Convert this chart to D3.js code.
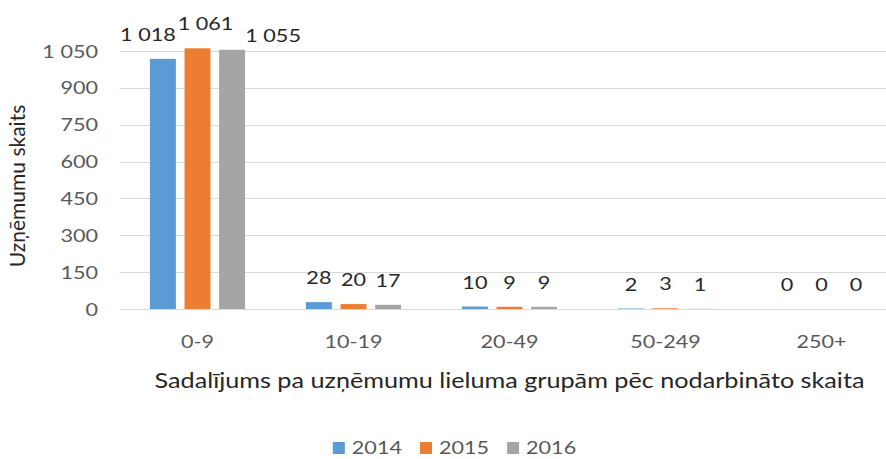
<!DOCTYPE html>
<html>
<head>
<meta charset="utf-8">
<script src="https://cdn.jsdelivr.net/npm/d3@7"></script>
<style>
  body { margin: 0; background: #fff; }
  text { font-family: Lato, "Open Sans", sans-serif; }
</style>
</head>
<body>
<script>
// chart data
var categories = ["0-9", "10-19", "20-49", "50-249", "250+"];
var years = ["2014", "2015", "2016"];
var values2014 = [1018, 28, 10, 2, 0];
var values2015 = [1061, 20, 9, 3, 0];
var values2016 = [1055, 17, 9, 1, 0];
var yTicks = [0, 150, 300, 450, 600, 750, 900, 1050];
var colors = ["#5B9BD5", "#ED7D31", "#A5A5A5"];

var width = 886, height = 459;
var stretch = 1.2; // reference text is a bit wide

var series = [values2014, values2015, values2016];
var fmt = function (v) { return d3.format(",")(v).replace(/,/g, " "); };

var svg = d3.select("body").append("svg")
    .attr("width", width)
    .attr("height", height);

var x0 = d3.scaleBand()
    .domain(categories)
    .range([119.5, 899.5])
    .paddingInner(0.39)
    .paddingOuter(0.195);

var x1 = d3.scaleBand()
    .domain(years)
    .range([0, x0.bandwidth()])
    .paddingInner(0.25);

var y = d3.scaleLinear()
    .domain([0, 1050])
    .range([309, 51]);

// put a stretched text at x,y
function label(g, x, y, str) {
    return g.append("text")
        .attr("transform", "translate(" + x + "," + y + ") scale(" + stretch + ",1)")
        .text(str);
}

// gridlines
svg.append("g").selectAll("line")
    .data(yTicks)
    .enter().append("line")
    .attr("x1", 119.5)
    .attr("x2", 899.5)
    .attr("y1", function (d) { return Math.round(y(d)) + 0.5; })
    .attr("y2", function (d) { return Math.round(y(d)) + 0.5; })
    .attr("stroke", "#D9D9D9")
    .attr("stroke-width", 1);

// y tick labels
var yAxis = svg.append("g");
yTicks.forEach(function (t) {
    label(yAxis, 98, y(t) + 6.5, fmt(t))
        .attr("text-anchor", "end")
        .attr("font-size", 18)
        .attr("fill", "#595959");
});

// category labels
var xAxis = svg.append("g");
categories.forEach(function (c) {
    label(xAxis, x0(c) + x0.bandwidth() / 2, 348, c)
        .attr("text-anchor", "middle")
        .attr("font-size", 18)
        .attr("fill", "#595959");
});

// bars
var groups = svg.append("g").selectAll("g")
    .data(categories)
    .enter().append("g")
    .attr("transform", function (c) { return "translate(" + x0(c) + ",0)"; });

groups.selectAll("rect")
    .data(function (c, i) {
        return years.map(function (yr, k) { return { year: yr, k: k, value: series[k][i], cat: c }; });
    })
    .enter().append("rect")
    .attr("x", function (d) { return x1(d.year); })
    .attr("width", x1.bandwidth())
    .attr("y", function (d) { return y(d.value); })
    .attr("height", function (d) { return y(0) - y(d.value); })
    .attr("fill", function (d) { return colors[d.k]; });

// Excel moved the crowded labels of the first group
var nudge = { "0-9|2014": [-15, 0], "0-9|2015": [8, 0], "0-9|2016": [41, 10] };

var labels = svg.append("g");
categories.forEach(function (c, i) {
    years.forEach(function (yr, k) {
        var v = series[k][i];
        var n = nudge[c + "|" + yr] || [0, 0];
        label(labels, x0(c) + x1(yr) + x1.bandwidth() / 2 + n[0], y(v) - 18 + n[1], fmt(v))
            .attr("text-anchor", "middle")
            .attr("font-size", 18)
            .attr("fill", "#262626");
    });
});

// axis titles
label(svg, (119.5 + 899.5) / 2, 388, "Sadalījums pa uzņēmumu lieluma grupām pēc nodarbināto skaita")
    .attr("text-anchor", "middle")
    .attr("font-size", 21)
    .attr("fill", "#262626");

svg.append("text")
    .attr("transform", "translate(25,186) rotate(-90)")
    .attr("text-anchor", "middle")
    .attr("font-size", 21)
    .attr("fill", "#262626")
    .text("Uzņēmumu skaits");

// legend
var legend = svg.append("g");
var items = [], total = 0;
years.forEach(function (yr, k) {
    var it = legend.append("g");
    it.append("rect").attr("width", 12).attr("height", 12).attr("y", -12).attr("fill", colors[k]);
    var t = label(it, 19, 0, yr).attr("font-size", 18).attr("fill", "#595959");
    var w = 19 + t.node().getComputedTextLength() * stretch;
    items.push({ g: it, w: w });
    total += w;
});
var gap = 18;
total += gap * (items.length - 1);
var lx = 454.5 - total / 2;
items.forEach(function (it) {
    it.g.attr("transform", "translate(" + lx + ",454)");
    lx += it.w + gap;
});
</script>
</body>
</html>
